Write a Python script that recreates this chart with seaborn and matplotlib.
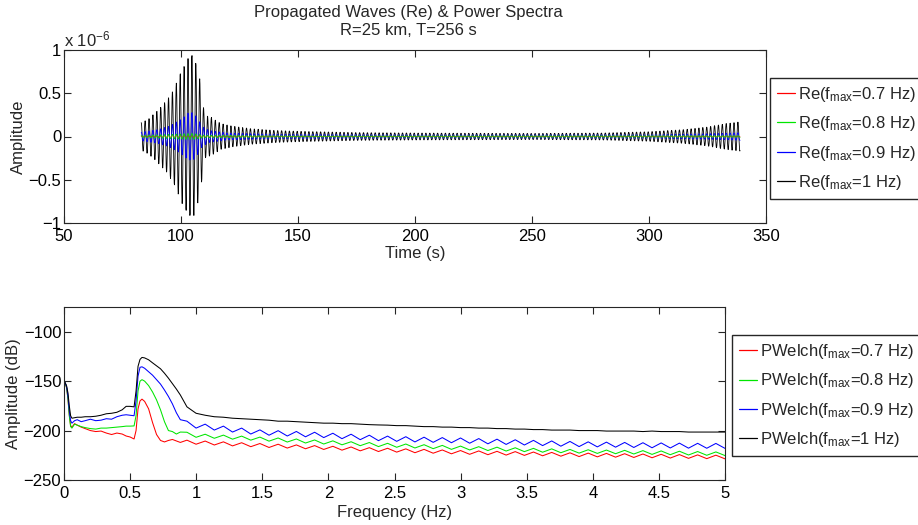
import numpy as np
import pandas as pd
import matplotlib
matplotlib.use("Agg")
import matplotlib.pyplot as plt
from matplotlib.lines import Line2D
from matplotlib.ticker import FixedLocator, FuncFormatter
import seaborn as sns

# ---------------------------------------------------------------- data ----
# Propagated waveforms: amplitude envelopes (units of 1e-6) at knot times (s)
fs = 10.0                 # sampling rate (Hz)
t_start = 83.0            # first sample of the propagated trace (s)
n_samples = 2560          # T = 256 s
carrier_hz = 0.6          # dominant frequency of the wave train

env_t_07 = [83, 95, 105, 115, 150, 339]
env_a_07 = [0.004, 0.008, 0.012, 0.006, 0.003, 0.004]

env_t_08 = [83, 100, 105, 110, 150, 339]
env_a_08 = [0.010, 0.030, 0.035, 0.015, 0.006, 0.010]

env_t_09 = [83, 90, 95, 100, 103, 105, 107, 109, 112, 120, 140, 200, 300, 330, 339]
env_a_09 = [0.05, 0.08, 0.12, 0.20, 0.27, 0.28, 0.22, 0.12, 0.07, 0.04, 0.025, 0.018,
            0.020, 0.035, 0.045]

env_t_10 = [83, 86, 90, 94, 97, 100, 103, 105, 107, 108.5, 110, 113, 117, 122, 130,
            140, 150, 175, 200, 250, 280, 300, 315, 325, 333, 339]
env_a_10 = [0.16, 0.20, 0.30, 0.42, 0.55, 0.75, 0.90, 0.95, 0.80, 0.60, 0.25, 0.22,
            0.15, 0.12, 0.09, 0.07, 0.06, 0.045, 0.04, 0.035, 0.04, 0.055, 0.08,
            0.11, 0.15, 0.17]

# Welch power spectra (dB): low-frequency part on an irregular grid ...
f_low = [0.0, 0.01, 0.02, 0.03, 0.04, 0.05, 0.06, 0.08, 0.10, 0.13, 0.16, 0.20,
         0.24, 0.28, 0.32, 0.36, 0.40, 0.44, 0.47, 0.50, 0.53, 0.545, 0.56, 0.575,
         0.59, 0.61, 0.64, 0.67, 0.70, 0.73, 0.76, 0.79, 0.82, 0.85, 0.88]

pw_low_07 = [-150, -152, -157, -168, -184, -195, -196.5, -193, -194.5, -196.5, -198,
             -200, -201, -200.5, -202.5, -204, -202.5, -203.5, -205.5, -206.5, -208.5,
             -200, -178, -170, -168.2, -170.5, -178, -192, -204, -210, -211.5, -210,
             -209, -210.5, -212]
pw_low_08 = [-150, -152, -157, -168, -185, -196, -197.5, -193.5, -194.5, -196, -197,
             -198, -198.5, -197.5, -197.5, -197, -196.5, -196, -195.5, -195.5, -195.3,
             -185, -160, -150, -148.5, -150, -154.5, -161, -169, -179, -191, -200,
             -201, -203.5, -201.5]
pw_low_09 = [-150, -152, -156, -165, -180, -190, -192.5, -190, -189, -191, -190,
             -188.5, -190, -189.5, -188, -188.5, -186, -184.5, -184, -184.5, -185,
             -170, -145, -136, -135.5, -137, -140.5, -144, -148.5, -153, -159, -165.5,
             -173, -182, -189]
pw_low_10 = [-150, -152, -155, -162, -175, -185, -187.5, -187, -186.5, -186.5, -186,
             -186, -185.5, -184.5, -183, -182.5, -181.5, -179, -175.5, -175.5, -176,
             -160, -135, -128, -126, -126.5, -128.4, -131.5, -134.5, -137.5, -142,
             -147, -152.5, -158, -164]

# ... and the rippled tail, evenly spaced from 0.93 Hz to 5 Hz
f_tail_start, f_tail_end = 0.93, 5.0
pw_tail_07 = [-209.7, -213.8, -210.6, -214.6, -211.4, -215.5, -212.3, -216.3, -213.1,
              -217.1, -213.8, -217.7, -214.5, -218.4, -215.2, -219.1, -215.9, -219.8,
              -216.6, -220.5, -217.3, -221.2, -217.9, -221.8, -218.5, -222.4, -219.0,
              -222.9, -219.6, -223.5, -220.2, -224.0, -220.6, -224.4, -221.0, -224.8,
              -221.3, -225.1, -221.7, -225.5, -222.1, -225.9, -222.5, -226.3, -222.8,
              -226.6, -223.1, -226.9, -223.4, -227.2, -223.7, -227.5, -224.0, -227.8,
              -224.3, -228.1, -224.6, -228.4, -224.9, -228.6]
pw_tail_08 = [-201.7, -206.8, -203.7, -207.8, -204.6, -208.7, -205.6, -209.7, -206.6,
              -210.7, -207.5, -211.6, -208.5, -212.6, -209.5, -213.6, -210.4, -214.4,
              -211.3, -215.3, -212.1, -216.2, -212.9, -216.9, -213.6, -217.6, -214.3,
              -218.3, -215.0, -219.0, -215.7, -219.6, -216.3, -220.2, -216.8, -220.7,
              -217.4, -221.3, -218.0, -221.9, -218.5, -222.4, -219.1, -222.8, -219.4,
              -223.1, -219.7, -223.4, -220.0, -223.7, -220.3, -224.1, -220.6, -224.4,
              -220.9, -224.7, -221.2, -225.0, -221.6, -225.3]
pw_tail_09 = [-190.5, -197.5, -193.5, -199.5, -195.5, -201.5, -197.5, -203.5, -199.3,
              -204.7, -200.1, -205.5, -200.9, -206.3, -201.7, -207.1, -202.7, -208.2,
              -203.7, -209.2, -204.7, -210.2, -205.6, -210.9, -206.2, -211.5, -206.7,
              -211.9, -207.1, -212.3, -207.5, -212.8, -208.1, -213.4, -208.7, -214.0,
              -209.3, -214.6, -209.9, -215.2, -210.5, -215.8, -211.0, -216.2, -211.4,
              -216.5, -211.7, -216.8, -212.0, -217.1, -212.3, -217.4, -212.5, -217.6,
              -212.7, -217.8, -212.9, -217.9, -213.0, -218.0]
pw_tail_10 = [-176, -182.5, -184.5, -186, -186.5, -187.5, -188, -188.5, -189, -189.5,
              -190.5, -190.5, -191, -191.5, -192, -192.5, -192.5, -193, -193, -193.5,
              -194, -194.3, -194.5, -195, -195, -195.5, -196, -196, -196.5, -196.5,
              -197, -197, -197.5, -197.5, -198, -198, -198.5, -198.5, -199, -199,
              -199.5, -199.5, -199.5, -200, -200, -200, -200.5, -200.5, -200.5, -200.5,
              -201, -200.5, -201, -201, -201, -201.5, -201.5, -201.5, -201.5, -201.5]

fmax_labels = ["0.7", "0.8", "0.9", "1"]
colors = ["#ff0000", "#00e600", "#0000ff", "#000000"]

# ------------------------------------------------------------- helpers ----
t = t_start + np.arange(n_samples) / fs


def wave(env_t, env_a):
    return np.interp(t, env_t, env_a) * np.cos(2 * np.pi * carrier_hz * (t - t_start))


def spectrum(low, tail):
    f = np.concatenate([f_low, np.linspace(f_tail_start, f_tail_end, len(tail))])
    return f, np.concatenate([low, tail])


waves = [wave(env_t_07, env_a_07), wave(env_t_08, env_a_08),
         wave(env_t_09, env_a_09), wave(env_t_10, env_a_10)]
spectra = [spectrum(pw_low_07, pw_tail_07), spectrum(pw_low_08, pw_tail_08),
           spectrum(pw_low_09, pw_tail_09), spectrum(pw_low_10, pw_tail_10)]

# --------------------------------------------------------------- style ----
sns.set_style("ticks")
plt.rcParams["font.family"] = ["Liberation Sans", "DejaVu Sans"]
plt.rcParams["mathtext.fontset"] = "custom"
plt.rcParams["mathtext.rm"] = "Liberation Sans"
plt.rcParams["mathtext.it"] = "Liberation Sans"
plt.rcParams["axes.unicode_minus"] = True
plt.rcParams["axes.edgecolor"] = "#262626"
plt.rcParams["axes.linewidth"] = 0.8

FS = 12
W, H = 918, 525
fig = plt.figure(figsize=(W / 100, H / 100), dpi=100)
fig.patch.set_facecolor("white")


def fig_rect(x0, y0, x1, y1):
    return [x0 / W, 1 - y1 / H, (x1 - x0) / W, (y1 - y0) / H]


ax1 = fig.add_axes(fig_rect(64, 50, 766, 223))
ax2 = fig.add_axes(fig_rect(64, 307, 725, 480))

num_fmt = FuncFormatter(lambda v, p: ("%g" % v).replace("-", "\u2212"))
legend_kw = dict(loc="upper left", bbox_transform=fig.transFigure, fontsize=FS,
                 frameon=True, fancybox=False, edgecolor="#262626", framealpha=1,
                 handlelength=1.1, handletextpad=0.15, labelspacing=0.62,
                 borderpad=0.42, borderaxespad=0)
handles = [Line2D([], [], color=c, lw=0.9) for c in colors]

# ------------------------------------------------------------ waveforms ----
for i in [3, 2, 0, 1]:
    df = pd.DataFrame({"t": t, "a": waves[i]})
    sns.lineplot(data=df, x="t", y="a", ax=ax1, color=colors[i], lw=0.6,
                 estimator=None, sort=False)

ax1.set_xlim(50, 350)
ax1.set_ylim(-1, 1)
ax1.xaxis.set_major_locator(FixedLocator([50, 100, 150, 200, 250, 300, 350]))
ax1.yaxis.set_major_locator(FixedLocator([-1, -0.5, 0, 0.5, 1]))
ax1.xaxis.set_major_formatter(num_fmt)
ax1.yaxis.set_major_formatter(num_fmt)
ax1.set_xlabel("Time (s)", fontsize=FS, labelpad=2)
ax1.set_ylabel("Amplitude", fontsize=FS, labelpad=2)
ax1.text(0.0, 1.005, r"x 10$^{-6}$", transform=ax1.transAxes, fontsize=FS,
         ha="left", va="bottom")
ax1.set_title("Propagated Waves (Re) & Power Spectra\nR=25 km, T=256 s",
              fontsize=FS, pad=11, linespacing=1.2, x=0.49)
ax1.legend(handles, [r"Re(f$_{\mathrm{max}}$=%s Hz)" % s for s in fmax_labels],
           bbox_to_anchor=(770 / W, 1 - 78 / H), **legend_kw)

# -------------------------------------------------------------- spectra ----
for i in range(4):
    f, p = spectra[i]
    sns.lineplot(x=f, y=p, ax=ax2, color=colors[i], lw=0.75, estimator=None,
                 sort=False)

ax2.set_xlim(0, 5)
ax2.set_ylim(-250, -75)
ax2.xaxis.set_major_locator(FixedLocator(np.arange(0, 5.01, 0.5)))
ax2.yaxis.set_major_locator(FixedLocator([-250, -200, -150, -100]))
ax2.xaxis.set_major_formatter(num_fmt)
ax2.yaxis.set_major_formatter(num_fmt)
ax2.set_xlabel("Frequency (Hz)", fontsize=FS, labelpad=3)
ax2.set_ylabel("Amplitude (dB)", fontsize=FS, labelpad=2)
ax2.legend(handles, [r"PWelch(f$_{\mathrm{max}}$=%s Hz)" % s for s in fmax_labels],
           bbox_to_anchor=(732 / W, 1 - 335 / H), **legend_kw)

for ax in (ax1, ax2):
    ax.tick_params(direction="in", top=True, right=True, length=5, width=0.8,
                   labelsize=FS, colors="#262626", labelcolor="black")
    ax.tick_params(axis="y", pad=2)
    ax.tick_params(axis="x", pad=4)
    for s in ax.spines.values():
        s.set_visible(True)
    ax.set_facecolor("white")

fig.savefig("out.png", dpi=100)
